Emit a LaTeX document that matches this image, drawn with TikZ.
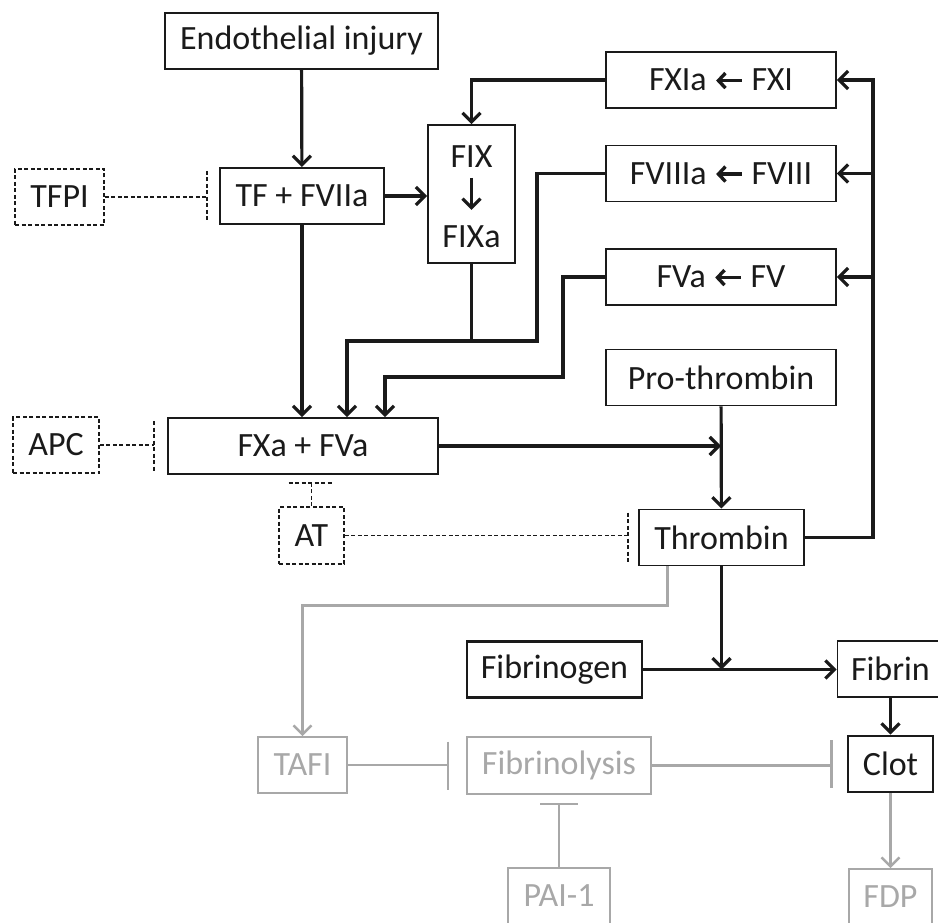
\documentclass[tikz,border=0pt]{standalone}
\usepackage{fontspec}
\setmainfont{Carlito}
\usepackage{tikz}
\usetikzlibrary{arrows.meta}
\definecolor{ink}{HTML}{1A1A1A}
\definecolor{faded}{HTML}{A8A8A8}
\tikzset{
  factorBox/.style={draw=ink, line width=1.9pt, inner sep=0pt, minimum height=56pt, text=ink, font=\fontsize{34}{40}\selectfont},
  boldBox/.style={factorBox, line width=2.6pt},
  inhibBox/.style={factorBox, dash pattern=on 4pt off 2.5pt},
  fadedBox/.style={factorBox, draw=faded, text=faded},
  factorText/.style={text=ink, font=\fontsize{34}{40}\selectfont},
  actArrow/.style={draw=ink, line width=3.2pt, -{Straight Barb[length=9pt,width=18pt]}},
  actLine/.style={draw=ink, line width=3.2pt},
  inhibLine/.style={draw=ink, line width=1.9pt, dash pattern=on 4pt off 2.5pt},
  fadedArrow/.style={draw=faded, line width=2.4pt, -{Straight Barb[length=9pt,width=18pt]}},
  fadedLine/.style={draw=faded, line width=2.8pt}
}
\newcommand{\convArrow}{\tikz[baseline=-0.3em]\draw[draw=ink, line width=3.4pt, {Straight Barb[length=7pt,width=15pt]}-] (0pt,0pt) -- (26pt,0pt);}

\begin{document}
\begin{tikzpicture}[x=1pt,y=-1pt]
  \useasboundingbox (0,0) rectangle (938,923);

  \node[factorBox, minimum width=273pt] (inj) at (301.5,41) {Endothelial injury};
  \node[factorBox, minimum width=164pt] (tf) at (302,196) {TF + FVIIa};
  \node[inhibBox, minimum width=89pt] (tfpi) at (59.5,197) {TFPI};

  \node[factorBox, minimum width=87pt, minimum height=138pt] (fix) at (471.5,194) {};
  \node[factorText] (fixin) at (471.5,157) {FIX};
  \node[factorText] (fixout) at (471.5,237) {FIXa};

  \node[factorBox, minimum width=230pt] (fxi) at (721,80) {FXIa \convArrow{} FXI};
  \node[factorBox, minimum width=230pt] (fviii) at (721,173.5) {FVIIIa \convArrow{} FVIII};
  \node[factorBox, minimum width=230pt] (fv) at (721,277) {FVa \convArrow{} FV};

  \node[factorBox, minimum width=270pt] (fxa) at (303,446) {FXa + FVa};
  \node[inhibBox, minimum width=86pt] (apc) at (56,445) {APC};
  \node[inhibBox, minimum width=65pt, minimum height=57pt] (at) at (311.5,535.5) {AT};

  \node[factorBox, minimum width=230pt] (pro) at (721,377.5) {Pro-thrombin};
  \node[factorBox, minimum width=165pt] (thr) at (721.5,537.5) {Thrombin};
  \node[boldBox, minimum width=175pt] (fbg) at (554.5,669.5) {Fibrinogen};
  \node[factorBox, minimum width=106pt] (fib) at (890.5,669) {Fibrin};
  \node[boldBox, minimum width=85pt] (clot) at (890.5,764) {Clot};

  \node[fadedBox, minimum width=89pt] (tafi) at (302.5,765) {TAFI};
  \node[fadedBox, minimum width=184pt, minimum height=57pt] (fbl) at (559,765.5) {Fibrinolysis};
  \node[fadedBox, minimum width=102pt] (pai) at (559,896) {PAI-1};
  \node[fadedBox, minimum width=83pt] (fdp) at (890.5,897) {FDP};

  \coordinate (viiiBend) at (537,341);
  \coordinate (vBend) at (563,377);

  \draw[actArrow] (inj) -- (tf);
  \draw[actArrow] (tf.east) -- (tf.east -| fix.west);
  \draw[actArrow] (tf.south) -- (tf.south |- fxa.north);
  \draw[actArrow] ([yshift=-6.5pt]fixin.south) -- ([yshift=12.5pt]fixout.north);
  \draw[actArrow] (fxi.west) -| (fix.north);
  \draw[actLine] (fix.south) -- (fix.south |- viiiBend);
  \draw[actArrow] (fviii.west) -| (viiiBend) -| ([xshift=44pt]fxa.north);
  \draw[actArrow] (fv.west) -| (vBend) -| ([xshift=82pt]fxa.north);
  \draw[actArrow] (fxa.east) -- (fxa.east -| pro.south);
  \draw[actArrow] (pro) -- (thr);
  \draw[actArrow] (thr.east) -| ([xshift=36pt]fxi.east) -- (fxi.east);
  \draw[actArrow] ([xshift=36pt]fviii.east) -- (fviii.east);
  \draw[actArrow] ([xshift=36pt]fv.east) -- (fv.east);
  \draw[actArrow] (thr.south) -- (thr.south |- fbg.east);
  \draw[actArrow] (fbg.east) -- (fbg.east -| fib.west);
  \draw[actArrow] (fib) -- (clot);

  \coordinate (tfpiBar) at ([xshift=-12pt]tf.west);
  \coordinate (apcBar) at ([xshift=-13pt]fxa.west);
  \coordinate (atBar) at ([yshift=-8pt]fxa.south -| at.north);
  \coordinate (thrBar) at ([xshift=-10pt]thr.west);
  \draw[inhibLine] (tfpi.east) -- (tfpi.east -| tfpiBar);
  \draw[inhibLine] ([yshift=25pt]tfpiBar) -- ([yshift=-25pt]tfpiBar);
  \draw[inhibLine] (apc.east) -- (apc.east -| apcBar);
  \draw[inhibLine] ([yshift=25pt]apcBar) -- ([yshift=-25pt]apcBar);
  \draw[inhibLine] (at.north) -- (atBar);
  \draw[inhibLine] ([xshift=-23pt]atBar) -- ([xshift=22pt]atBar);
  \draw[inhibLine] (at.east) -- (at.east -| thrBar);
  \draw[inhibLine] ([yshift=25pt]thrBar) -- ([yshift=-25pt]thrBar);

  \coordinate (tafiBar) at ([xshift=-18pt]fbl.west);
  \coordinate (fblBar) at ([xshift=-15pt]clot.west);
  \coordinate (paiBar) at ([yshift=-9pt]fbl.south);
  \draw[fadedArrow] ([xshift=-54pt]thr.south) -- ++(0,39) -| (tafi.north);
  \draw[fadedLine] (tafi.east) -- (tafi.east -| tafiBar);
  \draw[fadedLine] ([yshift=24pt]tafiBar) -- ([yshift=-24pt]tafiBar);
  \draw[fadedLine] (fbl.east) -- (fbl.east -| fblBar);
  \draw[fadedLine] ([yshift=24pt]fblBar) -- ([yshift=-24pt]fblBar);
  \draw[fadedLine] (pai.north) -- (paiBar);
  \draw[fadedLine] ([xshift=-19pt]paiBar) -- ([xshift=19pt]paiBar);
  \draw[fadedArrow] (clot) -- (fdp);
\end{tikzpicture}
\end{document}
